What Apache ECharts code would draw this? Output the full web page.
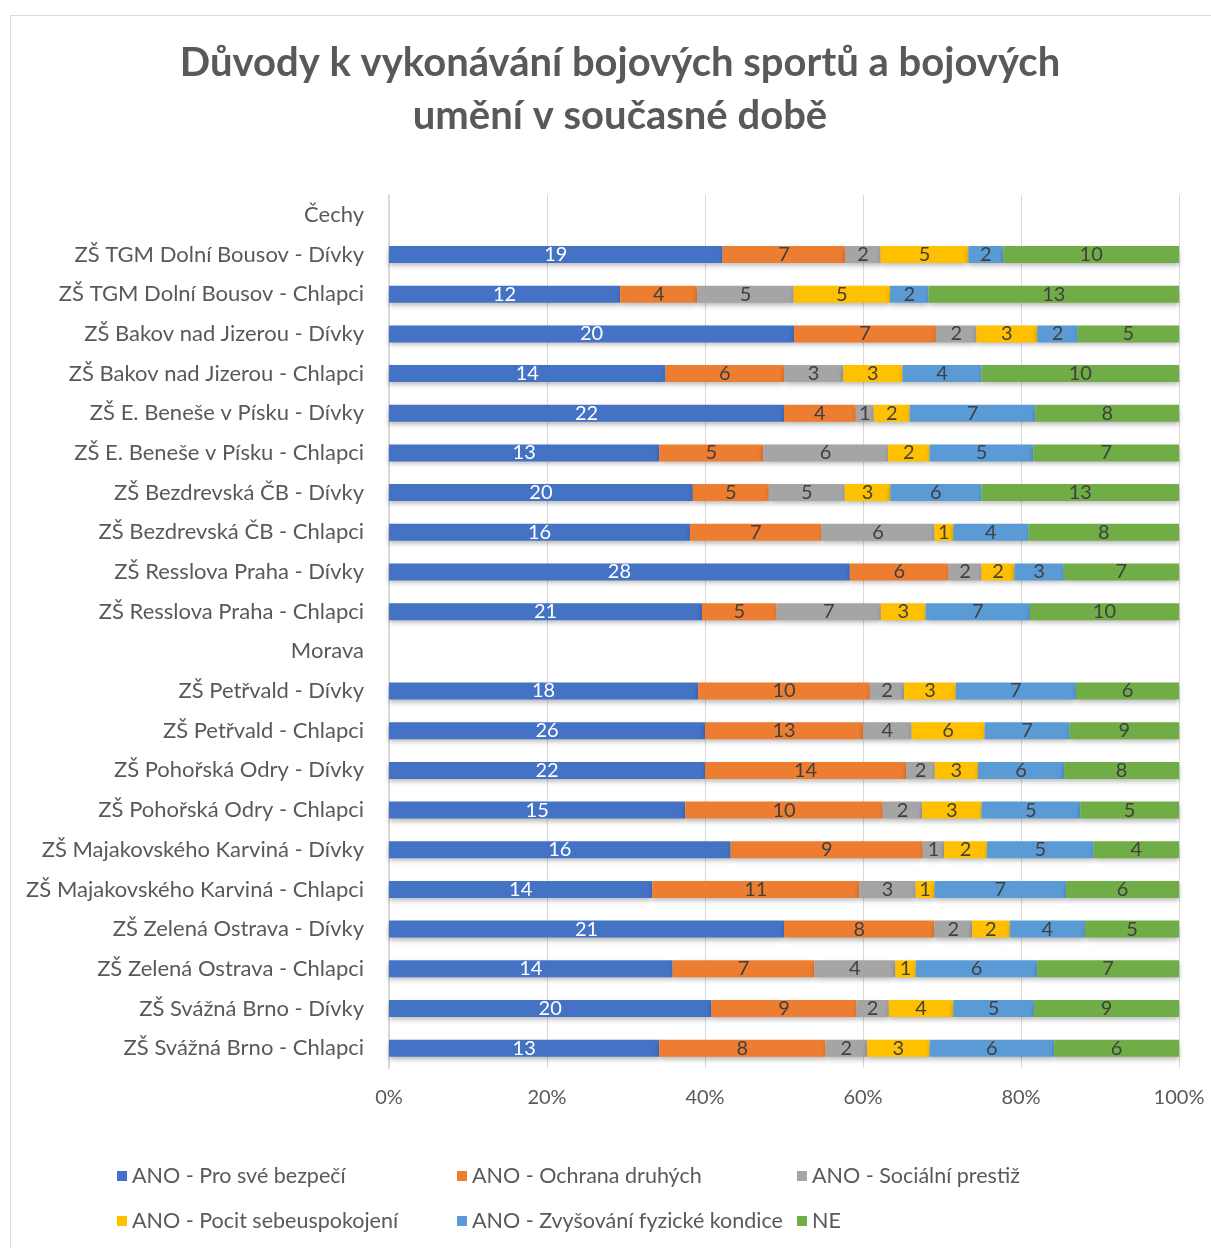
<!DOCTYPE html>
<html>
<head>
<meta charset="utf-8">
<script src="https://cdn.jsdelivr.net/npm/echarts@6/dist/echarts.min.js"></script>
<style>
html,body{margin:0;padding:0;background:#fff;}
#frame{position:absolute;left:10px;top:15px;width:1210px;height:1240px;border:1px solid #d9d9d9;box-sizing:border-box;}
#chart{position:absolute;left:0;top:0;width:1211px;height:1248px;}
</style>
</head>
<body>
<div id="frame"></div>
<div id="chart"></div>
<script>
const categories = [
  "Čechy",
  "ZŠ TGM Dolní Bousov - Dívky",
  "ZŠ TGM Dolní Bousov - Chlapci",
  "ZŠ Bakov nad Jizerou - Dívky",
  "ZŠ Bakov nad Jizerou - Chlapci",
  "ZŠ E. Beneše v Písku - Dívky",
  "ZŠ E. Beneše v Písku - Chlapci",
  "ZŠ Bezdrevská ČB - Dívky",
  "ZŠ Bezdrevská ČB - Chlapci",
  "ZŠ Resslova Praha - Dívky",
  "ZŠ Resslova Praha - Chlapci",
  "Morava",
  "ZŠ Petřvald - Dívky",
  "ZŠ Petřvald - Chlapci",
  "ZŠ Pohořská Odry - Dívky",
  "ZŠ Pohořská Odry - Chlapci",
  "ZŠ Majakovského Karviná - Dívky",
  "ZŠ Majakovského Karviná - Chlapci",
  "ZŠ Zelená Ostrava - Dívky",
  "ZŠ Zelená Ostrava - Chlapci",
  "ZŠ Svážná Brno - Dívky",
  "ZŠ Svážná Brno - Chlapci"
];
const seriesNames = [
  "ANO - Pro své bezpečí",
  "ANO - Ochrana druhých",
  "ANO - Sociální prestiž",
  "ANO - Pocit sebeuspokojení",
  "ANO - Zvyšování fyzické kondice",
  "NE"
];
const bezpeci   = [null,19,12,20,14,22,13,20,16,28,21,null,18,26,22,15,16,14,21,14,20,13];
const ochrana   = [null, 7, 4, 7, 6, 4, 5, 5, 7, 6, 5,null,10,13,14,10, 9,11, 8, 7, 9, 8];
const prestiz   = [null, 2, 5, 2, 3, 1, 6, 5, 6, 2, 7,null, 2, 4, 2, 2, 1, 3, 2, 4, 2, 2];
const uspokojeni= [null, 5, 5, 3, 3, 2, 2, 3, 1, 2, 3,null, 3, 6, 3, 3, 2, 1, 2, 1, 4, 3];
const kondice   = [null, 2, 2, 2, 4, 7, 5, 6, 4, 3, 7,null, 7, 7, 6, 5, 5, 7, 4, 6, 5, 6];
const ne        = [null,10,13, 5,10, 8, 7,13, 8, 7,10,null, 6, 9, 8, 5, 4, 6, 5, 7, 9, 6];
const xTicks = ["0%","20%","40%","60%","80%","100%"];

const colors = ["#4472c4","#ed7d31","#a5a5a5","#ffc000","#5b9bd5","#70ad47"];
const raw = [bezpeci, ochrana, prestiz, uspokojeni, kondice, ne];
const totals = categories.map((c,i)=> raw.reduce((s,arr)=> s + (arr[i]||0), 0));
const FONT = "Lato";

const series = raw.map((arr, k) => ({
  name: seriesNames[k],
  type: 'bar',
  stack: 'total',
  barWidth: 17,
  data: arr.map((v,i)=> v==null ? null : {value: v/totals[i]*100, raw: v}),
  itemStyle: {
    color: colors[k],
    shadowColor: 'rgba(0,0,0,0.28)',
    shadowBlur: 5,
    shadowOffsetY: 3
  },
  label: {
    show: true,
    position: 'inside',
    formatter: p => p.data ? String(p.data.raw) : '',
    color: k === 0 ? '#ffffff' : '#404040',
    fontFamily: FONT,
    fontSize: 20
  }
}));

const legends = seriesNames.map((n,k)=>({
  data: [n],
  left: [112,452,792][k%3],
  top: k < 3 ? 1160 : 1205,
  itemWidth: 10,
  itemHeight: 10,
  icon: 'rect',
  itemGap: 4,
  textStyle: {fontFamily: FONT, fontSize: 21.5, color: '#595959'}
}));

const chart = echarts.init(document.getElementById('chart'), null, {renderer:'canvas'});
chart.setOption({
  animation: false,
  backgroundColor: 'transparent',
  color: colors,
  title: {
    text: "Důvody k vykonávání bojových sportů a bojových\numění v současné době",
    left: 615,
    top: 32,
    textAlign: 'center',
    textStyle: {fontFamily: FONT, fontWeight: 'bold', fontSize: 40, color: '#595959', lineHeight: 53}
  },
  legend: legends,
  grid: {left: 389, right: 32, top: 195, bottom: 180, containLabel: false},
  xAxis: {
    type: 'value',
    min: 0, max: 100, interval: 20,
    axisLabel: {formatter: v => xTicks[Math.round(v/20)], fontFamily: FONT, fontSize: 20, color: '#595959', margin: 20},
    splitLine: {lineStyle: {color: '#d9d9d9', width: 1}},
    axisLine: {show: false},
    axisTick: {show: false}
  },
  yAxis: {
    type: 'category',
    inverse: true,
    data: categories,
    axisTick: {show: false},
    axisLine: {lineStyle: {color: '#d9d9d9', width: 2}},
    axisLabel: {fontFamily: FONT, fontSize: 22, color: '#595959', margin: 25}
  },
  series: series
});
</script>
</body>
</html>
